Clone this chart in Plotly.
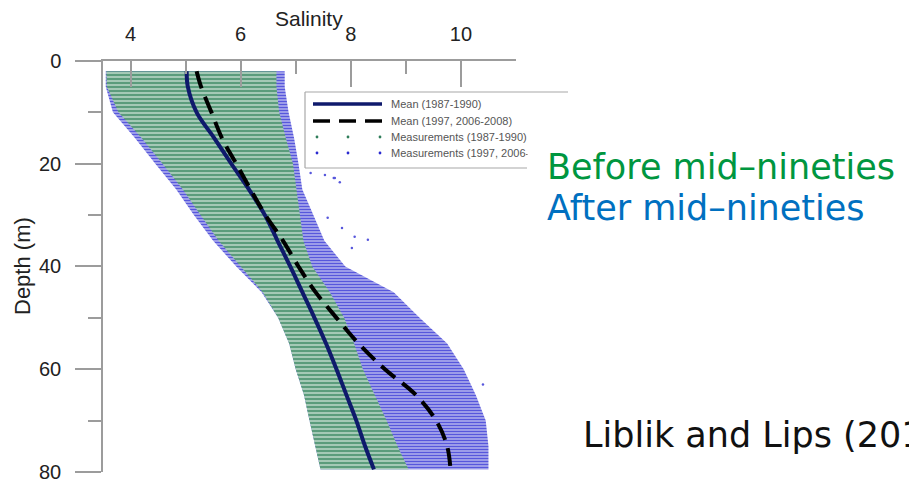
import plotly.graph_objects as go

# Depth levels (m) at which the profiles and measurement envelopes are given
depth = [2, 5, 10, 15, 20, 25, 30, 35, 40, 45, 50, 55, 60, 65, 70, 75, 79.5]

# Mean salinity profiles
mean_early = [5.02, 5.04, 5.2, 5.52, 5.83, 6.15, 6.44, 6.67, 6.9, 7.12, 7.34, 7.55, 7.74, 7.92, 8.1, 8.26, 8.42]
mean_late = [5.2, 5.28, 5.47, 5.66, 5.92, 6.18, 6.45, 6.77, 7.05, 7.36, 7.74, 8.14, 8.62, 9.18, 9.55, 9.75, 9.81]

# Range of measured salinity at each depth, 1987-1990
early_min = [3.56, 3.57, 3.78, 4.2, 4.58, 4.95, 5.27, 5.6, 6.0, 6.4, 6.68, 6.88, 7.0, 7.15, 7.25, 7.35, 7.45]
early_max = [6.65, 6.65, 6.7, 6.82, 6.95, 7.02, 7.08, 7.14, 7.3, 7.62, 7.88, 8.06, 8.22, 8.43, 8.65, 8.85, 9.05]

# Range of measured salinity at each depth, 1997 and 2006-2008
late_min = [3.55, 3.55, 3.68, 4.08, 4.45, 4.83, 5.15, 5.5, 5.92, 6.38, 6.68, 6.88, 7.0, 7.15, 7.25, 7.35, 7.45]
late_max = [6.8, 6.8, 6.87, 6.97, 7.05, 7.12, 7.32, 7.52, 7.9, 8.78, 9.25, 9.75, 10.05, 10.27, 10.45, 10.5, 10.5]

# Isolated later measurements outside the main cloud
stray_sal = [7.27, 7.53, 7.69, 7.71, 7.8, 7.58, 7.84, 8.07, 8.31, 8.02, 10.4]
stray_dep = [21.8, 22.2, 22.8, 22.8, 23.6, 30.5, 32.5, 34.2, 34.8, 36.4, 63.0]

x_ticks = [4, 6, 8, 10]
x_minor = [5, 7, 9, 11]
y_ticks = [0, 20, 40, 60, 80]
y_minor = [10, 30, 50, 70]

W, H = 909, 480
L, R, T, B = 103, 393, 61, 8
PW, PH = W - L - R, H - T - B


def px(x):
    return (x - L) / PW


def py(y):
    return (H - B - y) / PH


GREEN_FG, GREEN_BG = "#5b9c7c", "#c3ddcf"
BLUE_FG, BLUE_BG = "#5757dc", "#d0d0f4"
NAVY = "#0f1a6c"
AXIS = "#9c9c9c"
FONT = "Liberation Sans"

fig = go.Figure()

# Later measurement cloud (drawn first, partly covered by the earlier one)
fig.add_trace(go.Scatter(
    x=late_min + late_max[::-1], y=depth + depth[::-1],
    fill="toself", mode="lines", line=dict(width=0),
    fillcolor=BLUE_BG,
    fillpattern=dict(shape="-", fgcolor=BLUE_FG, bgcolor=BLUE_BG,
                     size=3, solidity=0.62, fillmode="replace"),
    hoverinfo="skip", showlegend=False))

# Earlier measurement cloud
fig.add_trace(go.Scatter(
    x=early_min + early_max[::-1], y=depth + depth[::-1],
    fill="toself", mode="lines", line=dict(width=0),
    fillcolor=GREEN_BG,
    fillpattern=dict(shape="-", fgcolor=GREEN_FG, bgcolor=GREEN_BG,
                     size=4, solidity=0.65, fillmode="replace"),
    hoverinfo="skip", showlegend=False))

fig.add_trace(go.Scatter(
    x=stray_sal, y=stray_dep, mode="markers",
    marker=dict(size=2.5, color=BLUE_FG), showlegend=False, hoverinfo="skip"))

fig.add_trace(go.Scatter(
    x=mean_early, y=depth, mode="lines", line=dict(color=NAVY, width=4, shape="spline"),
    showlegend=False))
fig.add_trace(go.Scatter(
    x=mean_late, y=depth, mode="lines",
    line=dict(color="black", width=4, dash="18px,9px", shape="spline"),
    showlegend=False))

fig.update_xaxes(
    range=[3.5, 11], side="top", showgrid=False, zeroline=False, automargin=False,
    showline=True, linecolor=AXIS, linewidth=1.5,
    tickmode="array", tickvals=x_ticks, ticks="inside", ticklen=26,
    tickcolor=AXIS, tickwidth=1.5, ticklabelstandoff=10,
    tickfont=dict(family=FONT, size=20, color="#222"),
    minor=dict(tickmode="array", tickvals=x_minor, ticks="inside",
               ticklen=13, tickcolor=AXIS, tickwidth=1.5),
)
fig.update_yaxes(
    range=[80.01, 0], showgrid=False, zeroline=False, automargin=False,
    showline=True, linecolor=AXIS, linewidth=1.5,
    tickmode="array", tickvals=y_ticks, ticks="outside", ticklen=26,
    tickcolor=AXIS, tickwidth=1.5, ticklabelstandoff=10,
    ticklabeloverflow="allow",
    tickfont=dict(family=FONT, size=20, color="#222"),
    minor=dict(tickmode="array", tickvals=y_minor, ticks="outside",
               ticklen=13, tickcolor=AXIS, tickwidth=1.5),
)

shapes = []
annotations = []

# Legend frame
for x0, y0, x1, y1 in [(305, 92, 568, 92), (305, 92, 305, 168), (305, 168, 527, 168)]:
    shapes.append(dict(type="line", xref="paper", yref="paper",
                       x0=px(x0), y0=py(y0), x1=px(x1), y1=py(y1),
                       line=dict(color="#a8a8a8", width=1.2)))

# Legend samples
shapes.append(dict(type="line", xref="paper", yref="paper",
                   x0=px(313), x1=px(382), y0=py(104), y1=py(104),
                   line=dict(color=NAVY, width=3.5)))
for a, b in [(313, 330), (339, 356), (365, 382)]:
    shapes.append(dict(type="line", xref="paper", yref="paper",
                       x0=px(a), x1=px(b), y0=py(121), y1=py(121),
                       line=dict(color="black", width=3.5)))
for yy, col in [(137, "#2f7d5a"), (153, "#2a2ad0")]:
    for xx in (317, 348, 380):
        shapes.append(dict(type="circle", xref="paper", yref="paper",
                           x0=px(xx - 1.4), x1=px(xx + 1.4),
                           y0=py(yy + 1.4), y1=py(yy - 1.4),
                           fillcolor=col, line=dict(width=0)))

legend_labels = ["Mean (1987-1990)", "Mean (1997, 2006-2008)",
                 "Measurements (1987-1990)", "Measurements (1997, 2006-2008)"]
for lab, yy in zip(legend_labels, [104, 121, 137, 153]):
    annotations.append(dict(text=lab, xref="paper", yref="paper",
                            x=px(389), y=py(yy), xanchor="left", yanchor="middle",
                            showarrow=False, font=dict(family=FONT, size=11, color="#555")))

# Blank panel to the right of the legend
annotations.append(dict(text=" ", xref="paper", yref="paper",
                        x=px(527), y=py(97), xanchor="left", yanchor="top",
                        width=382, height=150, bgcolor="white", borderpad=0,
                        showarrow=False))

# Axis titles
annotations.append(dict(text="Salinity", xref="paper", yref="paper",
                        x=px(309), y=py(19), xanchor="center", yanchor="middle",
                        showarrow=False, font=dict(family=FONT, size=21, color="#222")))
annotations.append(dict(text="Depth (m)", xref="paper", yref="paper",
                        x=px(22), y=py(266), xanchor="center", yanchor="middle",
                        textangle=-90, showarrow=False,
                        font=dict(family=FONT, size=22, color="#222")))

# Side captions
annotations.append(dict(text="Before mid–nineties", xref="paper", yref="paper",
                        x=px(545), y=py(167), xanchor="left", yanchor="middle",
                        showarrow=False, font=dict(family="DejaVu Sans", size=35, color="#00963f")))
annotations.append(dict(text="After mid–nineties", xref="paper", yref="paper",
                        x=px(545), y=py(208), xanchor="left", yanchor="middle",
                        showarrow=False, font=dict(family="DejaVu Sans", size=35, color="#0070c0")))
annotations.append(dict(text="Liblik and Lips (2011)", xref="paper", yref="paper",
                        x=px(581), y=py(435), xanchor="left", yanchor="middle",
                        showarrow=False, font=dict(family="DejaVu Sans", size=35, color="#111")))

fig.update_layout(
    width=W, height=H, margin=dict(l=L, r=R, t=T, b=B),
    paper_bgcolor="white", plot_bgcolor="white",
    shapes=shapes, annotations=annotations, showlegend=False,
)

fig.write_html("out.html")
